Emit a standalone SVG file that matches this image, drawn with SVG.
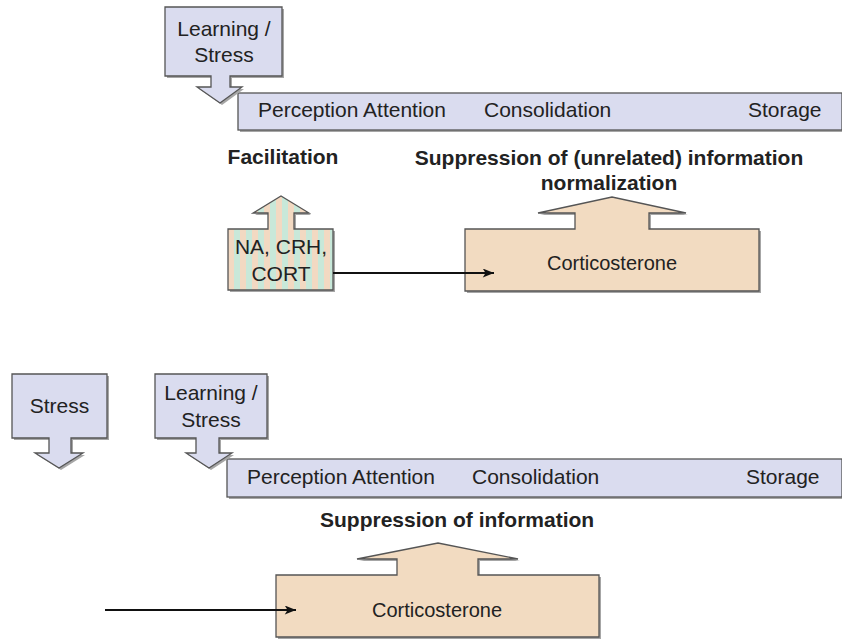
<svg xmlns="http://www.w3.org/2000/svg" width="842" height="639" viewBox="0 0 842 639">
  <defs>
    <style>
      .lav { fill: #dadcef; stroke: #555; stroke-width: 1.3; }
      .peach { fill: #f2dbc1; stroke: #555; stroke-width: 1.3; }
      .mix { fill: url(#stripes); stroke: #555; stroke-width: 1.3; }
      .shadow { fill: #a6a6a6; stroke: none; }
      .t { font-family: "Liberation Sans", Arial, sans-serif; font-size: 21px; fill: #222; }
      .b { font-family: "Liberation Sans", Arial, sans-serif; font-size: 21px; font-weight: bold; fill: #222; }
      .mid { text-anchor: middle; }
      .conn { stroke: #111; stroke-width: 2; fill: none; marker-end: url(#head); }
    </style>
    <pattern id="stripes" patternUnits="userSpaceOnUse" x="228" y="0" width="12" height="10">
      <rect width="12" height="10" fill="#f2d9c2"/>
      <rect x="6" width="6" height="10" fill="#c8e8d9"/>
    </pattern>
    <marker id="head" viewBox="0 0 10 8" refX="10" refY="4" markerWidth="6" markerHeight="4.5" orient="auto" markerUnits="strokeWidth">
      <path d="M0,0 L10,4 L0,8 L2.5,4 Z" fill="#111"/>
    </marker>
  </defs>

  <!-- upper panel -->
  <g id="bar-top">
    <rect class="shadow" x="240" y="95" width="602" height="37"/>
    <rect class="lav" x="238" y="93" width="604" height="37"/>
    <text class="t" x="258" y="117">Perception Attention</text>
    <text class="t" x="484" y="117">Consolidation</text>
    <text class="t" x="748" y="117">Storage</text>
  </g>

  <g id="learning-stress-top">
    <path class="shadow" d="M167,9 L284,9 L284,78 L232,78 L232,89 L244,89 L222,105 L199,89 L213,89 L213,78 L167,78 Z"/>
    <path class="lav" d="M165,7 L282,7 L282,76 L230,76 L230,87 L242,87 L220,103 L197,87 L211,87 L211,76 L165,76 Z"/>
    <text class="t mid" x="224" y="36">Learning /</text>
    <text class="t mid" x="224" y="62">Stress</text>
  </g>

  <g id="label-facilitation">
    <text class="b mid" x="283" y="164">Facilitation</text>
  </g>
  <g id="label-suppression-top">
    <text class="b mid" x="609" y="165">Suppression of (unrelated) information</text>
    <text class="b mid" x="609" y="190">normalization</text>
  </g>

  <g id="na-crh-cort">
    <path class="shadow" d="M230,231 L270,231 L270,215 L255,215 L283,198 L311,215 L296,215 L296,231 L335,231 L335,292 L230,292 Z"/>
    <path class="mix" d="M228,229 L268,229 L268,213 L253,213 L281,196 L309,213 L294,213 L294,229 L333,229 L333,290 L228,290 Z"/>
    <text class="t mid" x="281" y="254">NA, CRH,</text>
    <text class="t mid" x="281" y="281">CORT</text>
  </g>

  <g id="cort-top">
    <path class="shadow" d="M467,231 L577,231 L577,215 L540,215 L614,199 L688,215 L651,215 L651,231 L761,231 L761,293 L467,293 Z"/>
    <path class="peach" d="M465,229 L575,229 L575,213 L538,213 L612,197 L686,213 L649,213 L649,229 L759,229 L759,291 L465,291 Z"/>
    <text class="t mid" x="612" y="270" style="font-size:20px">Corticosterone</text>
  </g>

  <!-- lower panel -->
  <g id="bar-bottom">
    <rect class="shadow" x="229" y="461" width="613" height="38"/>
    <rect class="lav" x="227" y="459" width="615" height="38"/>
    <text class="t" x="247" y="484">Perception Attention</text>
    <text class="t" x="472" y="484">Consolidation</text>
    <text class="t" x="746" y="484">Storage</text>
  </g>

  <g id="stress">
    <path class="shadow" d="M14,376 L109,376 L109,440 L73,440 L73,455 L85,455 L61,470 L37,455 L51,455 L51,440 L14,440 Z"/>
    <path class="lav" d="M12,374 L107,374 L107,438 L71,438 L71,453 L83,453 L59,468 L35,453 L49,453 L49,438 L12,438 Z"/>
    <text class="t mid" x="59.5" y="413">Stress</text>
  </g>

  <g id="learning-stress-bottom">
    <path class="shadow" d="M157,376 L269,376 L269,440 L221,440 L221,455 L234,455 L211,470 L188,455 L198,455 L198,440 L157,440 Z"/>
    <path class="lav" d="M155,374 L267,374 L267,438 L219,438 L219,453 L232,453 L209,468 L186,453 L196,453 L196,438 L155,438 Z"/>
    <text class="t mid" x="211" y="400">Learning /</text>
    <text class="t mid" x="211" y="427">Stress</text>
  </g>

  <g id="label-suppression-bottom">
    <text class="b" x="320" y="527">Suppression of information</text>
  </g>

  <g id="cort-bottom">
    <path class="shadow" d="M278,577 L399,577 L399,561 L359,561 L440,545 L520,561 L480,561 L480,577 L601,577 L601,639 L278,639 Z"/>
    <path class="peach" d="M276,575 L397,575 L397,559 L357,559 L438,543 L518,559 L478,559 L478,575 L599,575 L599,637 L276,637 Z"/>
    <text class="t mid" x="437" y="617" style="font-size:20px">Corticosterone</text>
  </g>

  <g id="connectors">
    <line class="conn" x1="333" y1="273" x2="494" y2="273"/>
    <line class="conn" x1="105" y1="610" x2="296" y2="610"/>
  </g>
</svg>
